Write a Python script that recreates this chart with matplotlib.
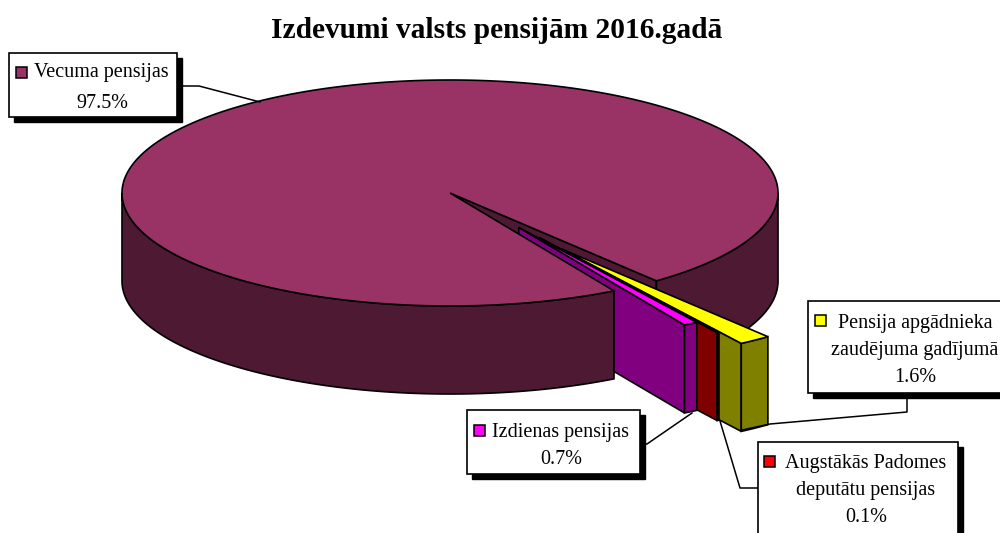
import numpy as np
import matplotlib
matplotlib.use('Agg')
import matplotlib.pyplot as plt
from matplotlib.patches import Polygon, Rectangle

plt.rcParams['font.family'] = ['Liberation Serif', 'DejaVu Serif']

# Dati
virsraksts = 'Izdevumi valsts pensijām 2016.gadā'
nosaukumi = ['Vecuma pensijas', 'Pensija apgādnieka\nzaudējuma gadījumā', 'Augstākās Padomes\ndeputātu pensijas', 'Izdienas pensijas']
daļas = [97.5, 1.6, 0.1, 0.7]
krāsas_virsa = ['#993366', '#FFFF00', '#FF0000', '#FF00FF']
krāsas_sāni = ['#4D1933', '#808000', '#800000', '#800080']
izvirzījums = [0, 0.60, 0.48, 0.37]

# Diagrammas ģeometrija pikseļos
cx, cy, a, b, augstums = 450, 193, 328, 113, 88
sākums = 51


def mala(t1, t2, dx=0, dy=0):
    t = np.radians(np.linspace(t1, t2, max(int(abs(t2 - t1) * 2), 2)))
    return np.column_stack([cx + dx + a * np.cos(t), cy + dy + b * np.sin(t)])


def siena(t1, t2, krasa, dx=0, dy=0, z=2):
    lok = mala(t1, t2, dx, dy)
    apaksa = lok[::-1] + [0, augstums]
    ax.add_patch(Polygon(np.vstack([lok, apaksa]), fc=krasa, ec='black', lw=1.2, zorder=z))


def radiala(t, krasa, dx=0, dy=0, z=2):
    p = mala(t, t, dx, dy)[0]
    c = np.array([cx + dx, cy + dy])
    pts = [c, p, p + [0, augstums], c + [0, augstums]]
    ax.add_patch(Polygon(pts, fc=krasa, ec='black', lw=1.2, zorder=z))


def virsa(t1, t2, krasa, dx=0, dy=0, z=2):
    pts = np.vstack([[[cx + dx, cy + dy]], mala(t1, t2, dx, dy)])
    ax.add_patch(Polygon(pts, fc=krasa, ec='black', lw=1.2, zorder=z))


fig = plt.figure(figsize=(10, 5.33), dpi=100)
ax = fig.add_axes([0, 0, 1, 1])
ax.set_xlim(0, 1000)
ax.set_ylim(533, 0)
ax.axis('off')

ax.text(497, 30, virsraksts, ha='center', va='center', fontsize=21.2, fontweight='bold')

# Lielais sektors: aizmugurējā daļa
beigas_liels = sākums + 3.6 * (100 - daļas[0])
radiala(sākums, krāsas_sāni[0], z=2)
siena(0, sākums, krāsas_sāni[0], z=2)

# Izvirzītie sektori
virz = np.radians(55.5)
vx, vy = a * np.cos(virz), b * np.sin(virz)
t = sākums
z = 3
for i in [1, 2, 3]:
    t2 = t + 3.6 * daļas[i]
    dx, dy = vx * izvirzījums[i], vy * izvirzījums[i]
    radiala(t2, krāsas_sāni[i], dx, dy, z)
    siena(t, t2, krāsas_sāni[i], dx, dy, z)
    virsa(t, t2, krāsas_virsa[i], dx, dy, z)
    t = t2
    z += 1

# Lielais sektors: priekša un virsa
siena(beigas_liels, 180, krāsas_sāni[0], z=8)
virsa(beigas_liels, 360 + sākums, krāsas_virsa[0], z=9)

# Paraksti
paraksti = [
    dict(kaste=(9, 53, 168, 64), atslega=(16, 67), teksts=(101, 73), proc=(102, 103),
         linija=[(177, 86), (199, 86), (260, 102)]),
    dict(kaste=(808, 301, 210, 92), atslega=(815, 315), teksts=(915, 337), proc=(915, 378),
         linija=[(907, 393), (907, 412), (770, 424), (742, 430)]),
    dict(kaste=(758, 442, 200, 110), atslega=(764, 456), teksts=(866, 477), proc=(866, 518),
         linija=[(758, 488), (740, 488), (720, 421)]),
    dict(kaste=(467, 410, 173, 64), atslega=(474, 425), teksts=(561, 432), proc=(561, 459),
         linija=[(640, 444), (647, 444), (692, 413)]),
]
for i, p in enumerate(paraksti):
    x, y, w, h = p['kaste']
    ax.plot(*zip(*p['linija']), color='black', lw=1.1, zorder=10)
    ax.add_patch(Rectangle((x + 5, y + 5), w, h, fc='black', ec='black', zorder=11))
    ax.add_patch(Rectangle((x, y), w, h, fc='white', ec='black', lw=1.2, zorder=12))
    ax.add_patch(Rectangle(p['atslega'], 11, 11, fc=krāsas_virsa[i], ec='black', lw=1.1, zorder=13))
    ax.text(*p['teksts'], nosaukumi[i], ha='center', va='center', fontsize=14.5, linespacing=1.6, zorder=13)
    ax.text(*p['proc'], f'{daļas[i]}%', ha='center', va='center', fontsize=14.5, zorder=13)

fig.savefig('out.png', dpi=100)
